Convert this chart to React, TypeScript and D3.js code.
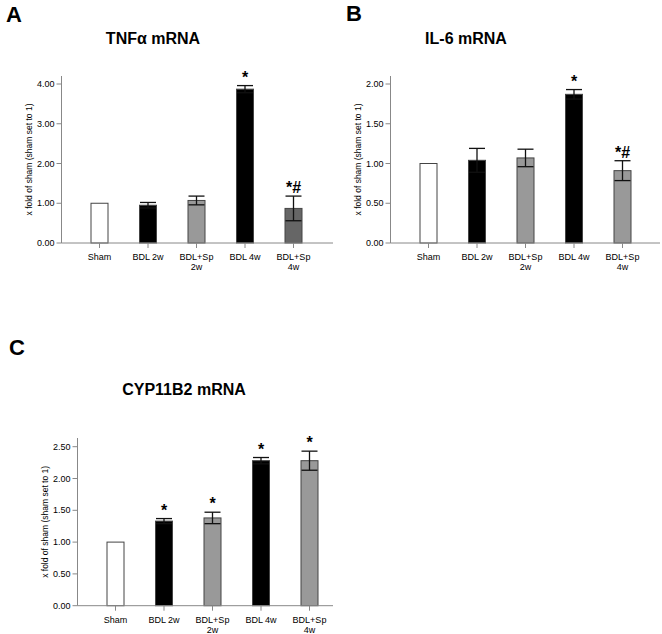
import React from "react";
import * as d3 from "d3";

const categories = ["Sham", "BDL 2w", "BDL+Sp\n2w", "BDL 4w", "BDL+Sp\n4w"];

const tnfMean = [1.0, 0.95, 1.07, 3.87, 0.87];
const tnfErr = [0, 0.07, 0.11, 0.09, 0.31];
const tnfLabels = ["", "", "", "*", "*#"];
const tnfColors = ["#ffffff", "#000000", "#999999", "#000000", "#666666"];
const tnfTicks = [0, 1, 2, 3, 4];

const il6Mean = [1.0, 1.04, 1.07, 1.87, 0.91];
const il6Err = [0, 0.15, 0.11, 0.06, 0.125];
const il6Labels = ["", "", "", "*", "*#"];
const il6Colors = ["#ffffff", "#000000", "#999999", "#000000", "#999999"];
const il6Ticks = [0, 0.5, 1, 1.5, 2];

const cypMean = [1.0, 1.33, 1.38, 2.28, 2.28];
const cypErr = [0, 0.04, 0.09, 0.05, 0.15];
const cypLabels = ["", "*", "*", "*", "*"];
const cypColors = ["#ffffff", "#000000", "#999999", "#000000", "#999999"];
const cypTicks = [0, 0.5, 1, 1.5, 2, 2.5];

const FONT = "'Liberation Sans', Arial, Helvetica, sans-serif";

type PanelProps = {
  letter: string;
  letterX: number;
  letterY: number;
  title: string;
  titleX: number;
  titleY: number;
  axisX: number;
  yTopPx: number;
  y0Px: number;
  axisTop: number;
  xEnd: number;
  means: number[];
  errs: number[];
  labels: string[];
  colors: string[];
  ticks: number[];
};

function Panel(p: PanelProps) {
  const yMax = p.ticks[p.ticks.length - 1];
  const y = d3.scaleLinear().domain([0, yMax]).range([p.y0Px, p.yTopPx]);
  const x = d3
    .scalePoint<string>()
    .domain(categories)
    .range([p.axisX + 38, p.axisX + 38 + 4 * 48.5]);
  const fmt = d3.format(".2f");
  const bw = 17;
  const cap = 8;
  const axisColor = "#888888";
  return (
    <g fontFamily={FONT}>
      <text x={p.letterX} y={p.letterY} fontSize={22} fontWeight="bold" fill="#000">
        {p.letter}
      </text>
      <text x={p.titleX} y={p.titleY} fontSize={16} fontWeight="bold" textAnchor="middle" fill="#000">
        {p.title}
      </text>
      {/* y axis */}
      <line x1={p.axisX} x2={p.axisX} y1={p.axisTop} y2={p.y0Px} stroke={axisColor} strokeWidth={1} />
      {p.ticks.map((t) => (
        <g key={t}>
          <line x1={p.axisX - 5} x2={p.axisX} y1={y(t)} y2={y(t)} stroke={axisColor} strokeWidth={1} />
          <text x={p.axisX - 7} y={y(t) + 3} fontSize={9} textAnchor="end" fill="#000">
            {fmt(t)}
          </text>
        </g>
      ))}
      <text
        transform={`translate(${p.axisX - 30},${(p.y0Px + p.axisTop) / 2}) rotate(-90)`}
        fontSize={8.5}
        textAnchor="middle"
        fill="#000"
      >
        x fold of sham (sham set to 1)
      </text>
      {/* bars */}
      {categories.map((c, i) => {
        const cx = x(c)!;
        return (
          <g key={c}>
            <rect
              x={cx - bw / 2}
              y={y(p.means[i])}
              width={bw}
              height={p.y0Px - y(p.means[i])}
              fill={p.colors[i]}
              stroke="#444"
              strokeWidth={1}
            />
            {p.errs[i] > 0 && (
              <g stroke="#111" strokeWidth={1.3}>
                <line x1={cx} x2={cx} y1={y(p.means[i] + p.errs[i])} y2={y(p.means[i] - p.errs[i])} />
                <line x1={cx - cap} x2={cx + cap} y1={y(p.means[i] + p.errs[i])} y2={y(p.means[i] + p.errs[i])} />
                <line x1={cx - cap} x2={cx + cap} y1={y(p.means[i] - p.errs[i])} y2={y(p.means[i] - p.errs[i])} />
              </g>
            )}
            {p.labels[i] && (
              <text
                x={cx}
                y={y(p.means[i] + p.errs[i]) - 3}
                fontSize={16}
                fontWeight="bold"
                textAnchor="middle"
                fill="#000"
              >
                {p.labels[i]}
              </text>
            )}
          </g>
        );
      })}
      {/* x axis */}
      <line x1={p.axisX} x2={p.xEnd} y1={p.y0Px} y2={p.y0Px} stroke={axisColor} strokeWidth={1} />
      {categories.map((c) => {
        const cx = x(c)!;
        const lines = c.split("\n");
        return (
          <g key={"t" + c}>
            <line x1={cx} x2={cx} y1={p.y0Px} y2={p.y0Px + 5} stroke={axisColor} strokeWidth={1} />
            {lines.map((ln, k) => (
              <text key={k} x={cx} y={p.y0Px + 17 + k * 10} fontSize={9} textAnchor="middle" fill="#000">
                {ln}
              </text>
            ))}
          </g>
        );
      })}
    </g>
  );
}

export default function App() {
  return (
    <svg
      width={662}
      height={634}
      style={{ position: "absolute", left: 0, top: 0, background: "#fff" }}
    >
      <rect width={662} height={634} fill="#fff" />
      <Panel
        letter="A"
        letterX={6}
        letterY={22}
        title="TNFα mRNA"
        titleX={153}
        titleY={44}
        axisX={61.5}
        yTopPx={84}
        y0Px={243}
        axisTop={76}
        xEnd={333}
        means={tnfMean}
        errs={tnfErr}
        labels={tnfLabels}
        colors={tnfColors}
        ticks={tnfTicks}
      />
      <Panel
        letter="B"
        letterX={346}
        letterY={21}
        title="IL-6 mRNA"
        titleX={466}
        titleY={44}
        axisX={390.5}
        yTopPx={84}
        y0Px={243}
        axisTop={76}
        xEnd={660}
        means={il6Mean}
        errs={il6Err}
        labels={il6Labels}
        colors={il6Colors}
        ticks={il6Ticks}
      />
      <Panel
        letter="C"
        letterX={9}
        letterY={355}
        title="CYP11B2 mRNA"
        titleX={184}
        titleY={395}
        axisX={77.5}
        yTopPx={446.7}
        y0Px={605.7}
        axisTop={438}
        xEnd={333}
        means={cypMean}
        errs={cypErr}
        labels={cypLabels}
        colors={cypColors}
        ticks={cypTicks}
      />
    </svg>
  );
}
